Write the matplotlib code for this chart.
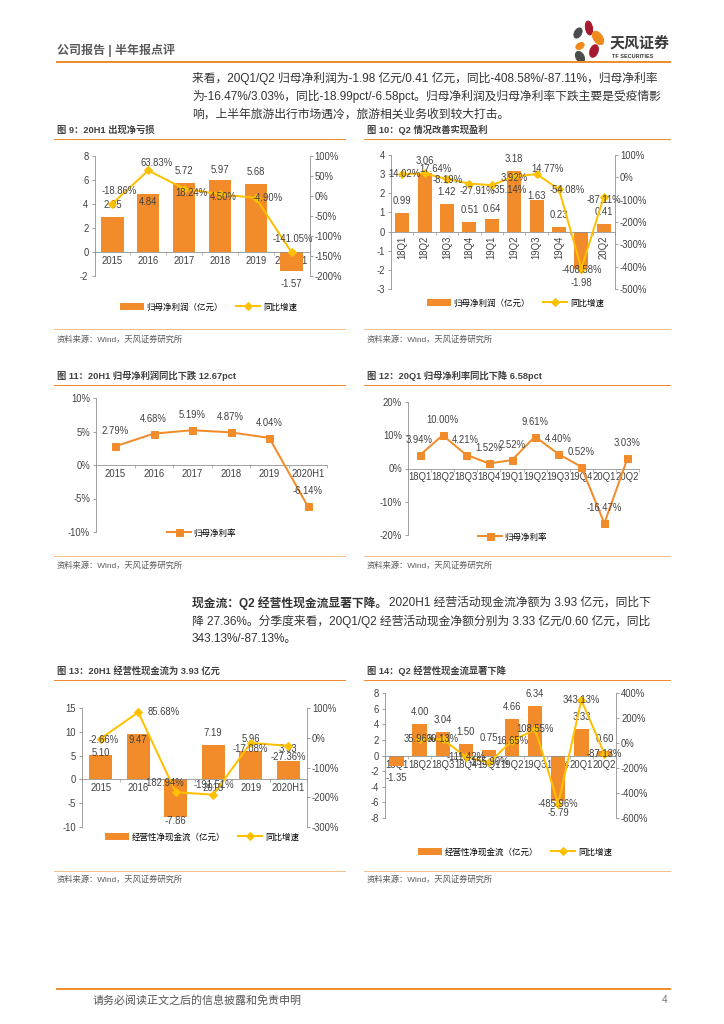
import numpy as np
import matplotlib
matplotlib.use('Agg')
import matplotlib.pyplot as plt
from matplotlib.patches import Ellipse

plt.rcParams['font.family'] = ['Liberation Sans', 'Noto Sans CJK SC', 'DejaVu Sans']
plt.rcParams['axes.unicode_minus'] = False

# ---- data ----
years = ['2015', '2016', '2017', '2018', '2019', '2020H1']
quarters = ['18Q1', '18Q2', '18Q3', '18Q4', '19Q1', '19Q2', '19Q3', '19Q4', '20Q1', '20Q2']

profit_y = [2.95, 4.84, 5.72, 5.97, 5.68, -1.57]              # 归母净利润（亿元）
profit_y_g = [-18.86, 63.83, 18.24, 4.50, -4.90, -141.05]     # 同比增速 %
profit_q = [0.99, 3.06, 1.42, 0.51, 0.64, 3.18, 1.63, 0.23, -1.98, 0.41]
profit_q_g = [14.02, 17.64, -8.19, -27.91, -35.14, 3.92, 14.77, -54.08, -408.58, -87.11]
margin_y = [2.79, 4.68, 5.19, 4.87, 4.04, -6.14]               # 归母净利率 %
margin_q = [3.94, 10.00, 4.21, 1.52, 2.52, 9.61, 4.40, 0.52, -16.47, 3.03]
cash_y = [5.10, 9.47, -7.86, 7.19, 5.96, 3.93]                 # 经营性净现金流（亿元）
cash_y_g = [-2.66, 85.68, -182.94, -191.51, -17.08, -27.36]
cash_q = [-1.35, 4.00, 3.04, 1.50, 0.75, 4.66, 6.34, -5.79, 3.33, 0.60]
cash_q_g = [np.nan, 35.96, 30.13, -111.42, -155.90, 16.65, 108.55, -485.96, 343.13, -87.13]

W, H = 724, 1024
BAR = '#F28C2B'
LINE = '#FFC000'
GRAY = '#8C8C8C'
TXT = '#404040'
ORANGE = '#EE8E2E'
LIGHT = '#F6C08C'
PARA = 11.8

fig = plt.figure(figsize=(W / 72, H / 72), dpi=72)

# overlay in page pixels for the page furniture
ov = fig.add_axes([0, 0, 1, 1])
ov.set_xlim(0, W)
ov.set_ylim(H, 0)
ov.axis('off')


def px_axes(x0, y0, x1, y1):
    return fig.add_axes([x0 / W, 1 - y1 / H, (x1 - x0) / W, (y1 - y0) / H])


def pct(v):
    return '%d%%' % v


def num(v):
    return '%d' % v


def base_axes(box, cats, ylim, yticks, rot=0, fmt=num):
    ax = px_axes(*box)
    n = len(cats)
    ax.set_xlim(-0.5, n - 0.5)
    ax.set_ylim(*ylim)
    ax.set_yticks(yticks)
    ax.set_yticklabels([fmt(v) for v in yticks])
    ax.set_xticks(range(n))
    ax.set_xticklabels(cats)
    ax.set_xticks(np.arange(-0.5, n), minor=True)
    for s in ['top', 'right']:
        ax.spines[s].set_visible(False)
    ax.spines['left'].set_color(GRAY)
    ax.spines['bottom'].set_color(GRAY)
    ax.spines['bottom'].set_position(('data', 0))
    ax.tick_params(axis='x', which='major', length=0, pad=4, labelsize=9.5,
                   labelcolor=TXT, labelrotation=rot)
    ax.tick_params(axis='x', which='minor', length=3, color=GRAY)
    ax.tick_params(axis='y', length=3, color=GRAY, labelsize=9.5, labelcolor=TXT, pad=3)
    ax.patch.set_visible(False)
    return ax


def twin_axes(ax, ylim, yticks):
    ax2 = ax.twinx()
    ax2.set_ylim(*ylim)
    ax2.set_yticks(yticks)
    ax2.set_yticklabels([pct(v) for v in yticks])
    for s in ['top', 'left', 'bottom']:
        ax2.spines[s].set_visible(False)
    ax2.spines['right'].set_color(GRAY)
    ax2.tick_params(axis='y', length=3, color=GRAY, labelsize=9.5, labelcolor=TXT, pad=2)
    return ax2


def labels(ax, vals, fmt, shifts=None, default=12):
    for i, v in enumerate(vals):
        if np.isnan(v):
            continue
        if shifts is not None and shifts[i] is not None:
            dx, dy = shifts[i]
        else:
            dx, dy = 0, (default if v >= 0 else -default)
        ax.annotate(fmt % v, (i, v), xytext=(dx, dy), textcoords='offset points',
                    ha='center', va='center', fontsize=9.5, color=TXT)


def legend_at(ax, handles, names, x, y):
    ax.legend(handles, names, loc='center left', bbox_to_anchor=(x / W, 1 - y / H),
              bbox_transform=fig.transFigure, ncol=len(handles), frameon=False,
              fontsize=8.5, handlelength=2.8, handleheight=0.9, handletextpad=0.3,
              columnspacing=1.6, borderpad=0, borderaxespad=0)


def combo(box, cats, bars, growth, ylim, yticks, y2lim, y2ticks, bar_name,
          leg_xy, rot=0, bar_shift=None, g_shift=None, g_default=12):
    ax = base_axes(box, cats, ylim, yticks, rot=rot)
    x = np.arange(len(cats))
    b = ax.bar(x, bars, width=0.62, color=BAR, zorder=2)
    labels(ax, bars, '%.2f', bar_shift)
    ax2 = twin_axes(ax, y2lim, y2ticks)
    ln, = ax2.plot(x, growth, color=LINE, lw=2, marker='D', ms=5, zorder=3)
    labels(ax2, growth, '%.2f%%', g_shift, g_default)
    legend_at(ax2, [b, ln], [bar_name, '同比增速'], *leg_xy)
    return ax, ax2


def margin_chart(box, cats, vals, ylim, yticks, leg_xy):
    ax = base_axes(box, cats, ylim, yticks, fmt=pct)
    x = np.arange(len(cats))
    ln, = ax.plot(x, vals, color=BAR, lw=2, marker='s', ms=7, zorder=3)
    labels(ax, vals, '%.2f%%', [(0, 15)] * len(vals))
    legend_at(ax, [ln], ['归母净利率'], *leg_xy)
    return ax


# ---- page header ----
ov.text(57, 50, '公司报告 | 半年报点评', fontsize=12, color='#595959',
        fontweight='bold', va='center')
ov.plot([57, 670], [62, 62], color=ORANGE, lw=2)
for (cx, cy, w, h, a, c) in [(578, 33, 7, 11, 30, '#4B4B4B'), (589, 28, 7, 14, -10, '#A6192E'),
                             (598, 38, 9, 15, -35, '#F08A1C'), (580, 46, 6, 9, 60, '#F08A1C'),
                             (594, 51, 8, 13, 20, '#A6192E'), (580, 57, 8, 12, -30, '#4B4B4B')]:
    ov.add_patch(Ellipse((cx, cy), w, h, angle=a, color=c))
ov.text(610, 43, '天风证券', fontsize=15, fontweight='bold', color='#3A3A3A', va='center')
ov.text(612, 57, 'TF SECURITIES', fontsize=5.5, fontweight='bold', color='#3A3A3A', va='center')

para1 = ['来看，20Q1/Q2 归母净利润为-1.98 亿元/0.41 亿元，同比-408.58%/-87.11%，归母净利率',
         '为-16.47%/3.03%，同比-18.99pct/-6.58pct。归母净利润及归母净利率下跌主要是受疫情影',
         '响，上半年旅游出行市场遇冷，旅游相关业务收到较大打击。']
for k, s in enumerate(para1):
    ov.text(192, 78 + 18.5 * k, s, fontsize=PARA, color='#333333', va='center')

# ---- titles, rules, sources ----
titles = [(57, 130, '图 9：20H1 出现净亏损'), (367, 130, '图 10：Q2 情况改善实现盈利'),
          (57, 376, '图 11：20H1 归母净利润同比下跌 12.67pct'), (367, 376, '图 12：20Q1 归母净利率同比下降 6.58pct'),
          (57, 671, '图 13：20H1 经营性现金流为 3.93 亿元'), (367, 671, '图 14：Q2 经营性现金流显著下降')]
for tx, ty, s in titles:
    ov.text(tx, ty, s, fontsize=9.3, fontweight='bold', color=TXT, va='center')
    x1 = 345 if tx < 300 else 670
    ov.plot([tx - 3, x1], [ty + 9, ty + 9], color=ORANGE, lw=1)
for sy, ry in [(340, 329), (566, 556), (880, 871)]:
    for sx, x1 in [(57, 345), (367, 670)]:
        ov.plot([sx - 3, x1], [ry, ry], color=LIGHT, lw=1)
        ov.text(sx, sy, '资料来源：Wind，天风证券研究所', fontsize=8.3, color='#595959', va='center')

# ---- cash flow paragraph ----
renderer = fig.canvas.get_renderer()
bold = ov.text(192, 603, '现金流：Q2 经营性现金流显著下降。', fontsize=PARA, fontweight='bold',
               color='#333333', va='center')
bx = bold.get_window_extent(renderer).x1
ov.text(bx + 2, 603, '2020H1 经营活动现金流净额为 3.93 亿元，同比下', fontsize=PARA,
        color='#333333', va='center')
ov.text(192, 621, '降 27.36%。分季度来看，20Q1/Q2 经营活动现金净额分别为 3.33 亿元/0.60 亿元，同比',
        fontsize=PARA, color='#333333', va='center')
ov.text(192, 639, '343.13%/-87.13%。', fontsize=PARA, color='#333333', va='center')

# ---- footer ----
ov.plot([57, 670], [989, 989], color=ORANGE, lw=2)
ov.text(93, 1000, '请务必阅读正文之后的信息披露和免责申明', fontsize=11, color='#555555', va='center')
ov.text(662, 1000, '4', fontsize=10, color='#777777', va='center')

# ---- chart 9 ----
combo((94.5, 156, 309.5, 276), years, profit_y, profit_y_g, (-2, 8), range(-2, 9, 2),
      (-200, 100), range(-200, 101, 50), '归母净利润（亿元）', (120, 307),
      bar_shift=[(0, 12), (0, -8), (0, 12), (0, 10), (0, 12), (0, -13)],
      g_shift=[(7, 13), (8, 7), (7, -4), (3, -3), (12, 0), (1, 13)])

# ---- chart 10 ----
combo((391, 155, 615, 289), quarters, profit_q, profit_q_g, (-3, 4), range(-3, 5),
      (-500, 100), range(-500, 101, 100), '归母净利润（亿元）', (427, 303), rot=90,
      bar_shift=[None, None, None, None, (0, 10), None, (0, 4), None, (0, -14), None],
      g_shift=[(2, 0), (11, 4), (1, -1), (8, -7), (17, -5), (0, -2), (11, 5), (8, -1), (0, -1), (0, -3)])

# ---- chart 11 / 12 ----
margin_chart((96, 398, 327, 532), years, margin_y, (-10, 10), range(-10, 11, 5), (167, 533))
margin_chart((408, 402, 639, 535), quarters, margin_q, (-20, 20), range(-20, 21, 10), (478, 537))

# ---- chart 13 ----
combo((82, 708, 307, 827), years, cash_y, cash_y_g, (-10, 15), range(-10, 16, 5),
      (-300, 100), range(-300, 101, 100), '经营性净现金流（亿元）', (105, 837),
      bar_shift=[(0, 2), (0, -6), (0, -4), None, None, None],
      g_shift=[(3, -1), (25, 0), (-12, 9), (1, 10), (0, -6), (0, -11)])

# ---- chart 14 ----
combo((385, 693, 616, 818), quarters, cash_q, cash_q_g, (-8, 8), range(-8, 9, 2),
      (-600, 400), range(-600, 401, 200), '经营性净现金流（亿元）', (418, 852),
      g_shift=[(0, 0)] * len(quarters))

fig.savefig('out.png', dpi=72)
